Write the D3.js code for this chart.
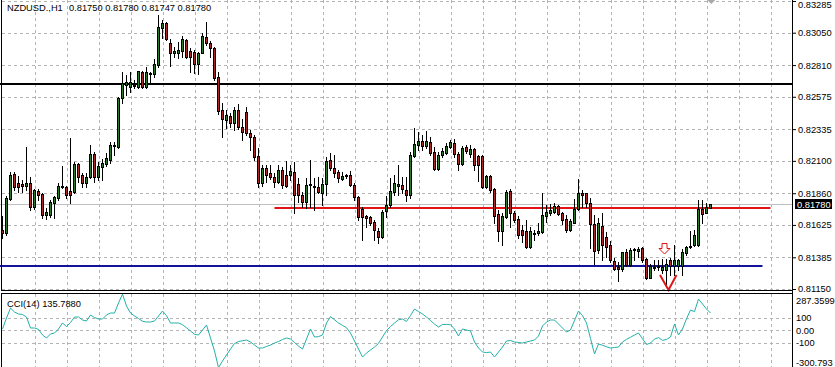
<!doctype html>
<meta charset="utf-8">
<style>
    body { margin: 0; background: #fff; }
    svg text { font-family: "Liberation Sans", Arial, sans-serif; font-size: 9.3px; fill: #000; }
</style>
<body>
<script src="https://d3js.org/d3.v7.min.js"></script>
<script>
    const symbol = 'NZDUSD.,H1';
    const lastQuote = ['0.81750', '0.81780', '0.81747', '0.81780'];
    const cciTitle = 'CCI(14) 135.7880';

    // hourly bars, oldest first: [open, high, low, close]
    const candles = [
        [0.81587,0.81691,0.81528,0.81565],[0.81565,0.81840,0.81550,0.81825],[0.81817,0.82017,0.81810,0.81995],[0.82003,0.82017,0.81884,0.81906],
        [0.81936,0.81988,0.81869,0.81906],[0.81928,0.81958,0.81869,0.81914],[0.81914,0.82203,0.81884,0.81936],[0.81936,0.81980,0.81736,0.81758],
        [0.81758,0.81891,0.81743,0.81884],[0.81877,0.81891,0.81810,0.81847],[0.81854,0.81862,0.81676,0.81699],[0.81699,0.81751,0.81669,0.81721],
        [0.81699,0.81810,0.81684,0.81795],[0.81788,0.81840,0.81676,0.81832],[0.81825,0.81936,0.81810,0.81914],[0.81906,0.82062,0.81899,0.81914],
        [0.81906,0.81914,0.81825,0.81847],[0.81877,0.82270,0.81788,0.81847],[0.81869,0.82092,0.81862,0.82077],[0.82077,0.82084,0.81943,0.81980],
        [0.81995,0.82010,0.81906,0.81936],[0.81936,0.82010,0.81906,0.81980],[0.81980,0.82218,0.81973,0.82151],[0.82151,0.82166,0.81943,0.81980],
        [0.81980,0.82092,0.81958,0.82062],[0.82055,0.82114,0.81958,0.82084],[0.82077,0.82158,0.82062,0.82121],[0.82106,0.82240,0.82084,0.82218],
        [0.82210,0.82240,0.82143,0.82218],[0.82203,0.82573,0.82195,0.82566],[0.82566,0.82759,0.82529,0.82677],[0.82662,0.82737,0.82588,0.82685],
        [0.82648,0.82759,0.82611,0.82685],[0.82655,0.82699,0.82640,0.82662],[0.82648,0.82766,0.82640,0.82766],[0.82759,0.82766,0.82640,0.82648],
        [0.82648,0.82796,0.82640,0.82759],[0.82744,0.82759,0.82677,0.82751],[0.82744,0.82855,0.82722,0.82818],[0.82811,0.83181,0.82796,0.83092],
        [0.83085,0.83144,0.83011,0.83122],[0.83122,0.83129,0.82996,0.83003],[0.82974,0.83003,0.82803,0.82900],[0.82900,0.82944,0.82870,0.82914],
        [0.82900,0.82981,0.82863,0.82922],[0.82914,0.83026,0.82870,0.83003],[0.82996,0.83003,0.82863,0.82870],[0.82914,0.82937,0.82759,0.82870],
        [0.82907,0.82922,0.82751,0.82818],[0.82818,0.82907,0.82744,0.82900],[0.82900,0.83048,0.82900,0.83026],[0.83018,0.83129,0.82959,0.82974],
        [0.82974,0.82989,0.82870,0.82937],[0.82937,0.82944,0.82699,0.82714],[0.82722,0.82759,0.82447,0.82470],[0.82477,0.82529,0.82277,0.82410],
        [0.82403,0.82477,0.82344,0.82440],[0.82433,0.82455,0.82351,0.82381],[0.82381,0.82499,0.82329,0.82477],[0.82477,0.82522,0.82336,0.82351],
        [0.82351,0.82410,0.82255,0.82314],[0.82462,0.82499,0.82292,0.82307],[0.82307,0.82329,0.82180,0.82277],[0.82277,0.82292,0.82106,0.82129],
        [0.82136,0.82195,0.81906,0.81936],[0.81936,0.82069,0.81914,0.82047],[0.82047,0.82069,0.81943,0.81995],[0.82010,0.82069,0.81966,0.81980],
        [0.81980,0.82010,0.81906,0.81943],[0.81943,0.82069,0.81936,0.82032],[0.82032,0.82055,0.81899,0.81921],[0.81995,0.82099,0.81906,0.81914],
        [0.81995,0.82069,0.81958,0.82025],[0.82017,0.82092,0.81714,0.81847],[0.81928,0.81973,0.81795,0.81847],[0.81847,0.81869,0.81758,0.81795],
        [0.81795,0.81973,0.81751,0.81921],[0.81921,0.82106,0.81758,0.81928],[0.81914,0.81973,0.81736,0.81906],[0.81906,0.81980,0.81862,0.81869],
        [0.81862,0.81973,0.81773,0.81928],[0.81928,0.82129,0.81847,0.82099],[0.82106,0.82158,0.82032,0.82047],[0.82047,0.82143,0.81980,0.82010],
        [0.82017,0.82032,0.81943,0.81973],[0.81966,0.82017,0.81958,0.81988],[0.81988,0.82003,0.81973,0.81995],[0.81995,0.82025,0.81914,0.81921],
        [0.81921,0.81936,0.81810,0.81832],[0.81832,0.81840,0.81662,0.81684],[0.81743,0.81758,0.81513,0.81684],[0.81691,0.81699,0.81610,0.81676],
        [0.81684,0.81691,0.81625,0.81639],[0.81647,0.81662,0.81513,0.81587],[0.81580,0.81602,0.81491,0.81536],[0.81536,0.81736,0.81528,0.81721],
        [0.81728,0.81840,0.81684,0.81773],[0.81773,0.81973,0.81758,0.81877],[0.81869,0.81995,0.81847,0.81936],[0.81914,0.82069,0.81847,0.81928],
        [0.81921,0.81980,0.81862,0.81891],[0.81884,0.81980,0.81802,0.81847],[0.81847,0.82166,0.81825,0.82143],[0.82136,0.82344,0.82129,0.82225],
        [0.82218,0.82314,0.82180,0.82247],[0.82247,0.82292,0.82180,0.82210],[0.82210,0.82321,0.82195,0.82247],[0.82240,0.82277,0.82143,0.82158],
        [0.82166,0.82203,0.82032,0.82040],[0.82040,0.82166,0.82032,0.82143],[0.82143,0.82195,0.82129,0.82173],[0.82158,0.82232,0.82151,0.82210],
        [0.82203,0.82255,0.82195,0.82240],[0.82232,0.82262,0.82129,0.82151],[0.82151,0.82166,0.82032,0.82077],[0.82077,0.82210,0.82069,0.82195],
        [0.82203,0.82218,0.82158,0.82173],[0.82151,0.82218,0.82129,0.82188],[0.82188,0.82195,0.82032,0.82069],[0.82136,0.82143,0.81951,0.82069],
        [0.82136,0.82143,0.81899,0.81906],[0.81906,0.81995,0.81899,0.81988],[0.81988,0.81995,0.81869,0.81884],[0.81891,0.81899,0.81639,0.81691],
        [0.81706,0.81736,0.81506,0.81580],[0.81580,0.81714,0.81477,0.81691],[0.81684,0.81884,0.81676,0.81869],[0.81877,0.81891,0.81610,0.81714],
        [0.81714,0.81728,0.81647,0.81662],[0.81669,0.81691,0.81528,0.81550],[0.81587,0.81625,0.81498,0.81550],[0.81580,0.81662,0.81454,0.81461],
        [0.81461,0.81610,0.81454,0.81580],[0.81558,0.81587,0.81513,0.81565],[0.81565,0.81639,0.81550,0.81580],[0.81573,0.81862,0.81565,0.81699],
        [0.81691,0.81773,0.81647,0.81721],[0.81714,0.81780,0.81699,0.81736],[0.81721,0.81788,0.81714,0.81765],[0.81765,0.81773,0.81699,0.81706],
        [0.81714,0.81721,0.81632,0.81662],[0.81669,0.81699,0.81573,0.81587],[0.81587,0.81669,0.81580,0.81654],[0.81639,0.81817,0.81639,0.81743],
        [0.81743,0.81966,0.81736,0.81862],[0.81862,0.81884,0.81758,0.81847],[0.81862,0.81862,0.81758,0.81788],[0.81788,0.81825,0.81454,0.81632],
        [0.81632,0.81699,0.81335,0.81432],[0.81439,0.81676,0.81417,0.81639],[0.81617,0.81714,0.81365,0.81477],[0.81536,0.81573,0.81387,0.81461],
        [0.81477,0.81506,0.81350,0.81365],[0.81358,0.81380,0.81291,0.81298],[0.81313,0.81350,0.81209,0.81298],[0.81298,0.81424,0.81284,0.81424],
        [0.81424,0.81447,0.81321,0.81328],[0.81328,0.81454,0.81321,0.81439],[0.81439,0.81454,0.81365,0.81447],[0.81432,0.81461,0.81387,0.81447],
        [0.81454,0.81461,0.81350,0.81365],[0.81373,0.81380,0.81224,0.81232],[0.81232,0.81335,0.81232,0.81321],[0.81306,0.81365,0.81291,0.81313],
        [0.81313,0.81365,0.81291,0.81321],[0.81291,0.81373,0.81269,0.81313],[0.81291,0.81373,0.81180,0.81335],[0.81365,0.81380,0.81254,0.81321],
        [0.81321,0.81477,0.81254,0.81365],[0.81321,0.81373,0.81291,0.81365],[0.81321,0.81447,0.81254,0.81424],[0.81417,0.81469,0.81402,0.81461],
        [0.81461,0.81580,0.81454,0.81469],[0.81477,0.81587,0.81469,0.81550],[0.81477,0.81810,0.81469,0.81743],[0.81743,0.81810,0.81639,0.81706],
        [0.81714,0.81788,0.81714,0.81758],[0.81750,0.81780,0.81747,0.81780]
    ];

    // CCI(14), one value per bar
    const cci = [
        8, 96, 176, 144, 128, 124, 104, 16, 16, 5,
        -40, -64, -32, -24, 8, 56, 28, 60, 104, 104,
        80, 72, 120, 100, 88, 88, 120, 136, 136, 216,
        287.3599, 192, 136, 112, 92, 70, 64, 64, 72, 112,
        152, 115, 56, 56, 56, 43, 18, -8, -34, -40,
        0, 40, -64, -168, -300.793, -248, -200, -152, -108, -92,
        -86, -80, -96, -120, -144, -144, -132, -120, -104, -92,
        -76, -64, -72, -100, -128, -152, -72, 8, -56, -53,
        -40, 56, 107, 82, 56, 37, 18, -24, -88, -152,
        -216, -184, -160, -136, -107, -56, -5, 28, 56, 82,
        88, 69, 116, 168, 148, 128, 104, 76, 48, 24,
        44, 45, 42, 8, -48, 8, 0, -8, -96, -144,
        -176, -181, -176, -216, -176, -136, -88, -84, -96, -100,
        -104, -96, -88, -80, -48, 32, 64, 80, 80, 48,
        16, -16, 0, 76, 152, 115, 56, -68, -192, -112,
        -122, -134, -144, -140, -136, -96, -75, -58, -40, -24,
        -70, -116, -104, -72, -61, -83, -75, -56, 48, -40,
        8, 90, 160, 147, 248, 208, 168, 135.788
    ];

    const priceRange = [0.81150, 0.83285];
    const priceTicks = [0.83285, 0.83050, 0.82810, 0.82575, 0.82335, 0.82100, 0.81860, 0.81625, 0.81385, 0.81150];
    const cciRange = [-300.793, 287.3599];
    const cciGrid = [100, 0, -100];
    const cciLabels = [[287.3599, '287.3599'], [100, '100'], [0, '0.00'], [-100, '-100'], [-300.793, '-300.793']];

    // horizontal lines drawn on the chart: [price, first bar, last bar, colour]
    const levels = [
        [0.82670, -2, 200, '#000000'],
        [0.81747, 68, 192, '#e01414'],
        [0.81321, -2, 190, '#12129a']
    ];
    // arrow objects: [bar, price]
    const hollowArrow = [165.5, 0.81491];
    const checkArrow = [166.5, 0.81143];

    const W = 835, H = 367;
    const axisX = 792;
    const mainBottom = 290, subTop = 293;

    const svg = d3.select('body').append('svg').attr('width', W).attr('height', H);
    svg.append('rect').attr('width', W).attr('height', H).attr('fill', '#fff');

    const x = d3.scaleLinear().domain([0, 1]).range([2.5, 6.5]);
    const y = d3.scaleLinear().domain(priceRange).range([289, 1]);
    const cy = d3.scaleLinear().domain(cciRange).range([367.6, 294.1]);
    const crisp = v => Math.round(v) + 0.5;

    const defs = svg.append('defs');
    defs.append('clipPath').attr('id', 'clip-main')
        .append('rect').attr('x', 0).attr('y', 0).attr('width', axisX).attr('height', mainBottom);
    defs.append('clipPath').attr('id', 'clip-sub')
        .append('rect').attr('x', 2).attr('y', subTop + 1).attr('width', axisX - 2).attr('height', H - subTop);

    // grid
    const grid = svg.append('g').attr('stroke', '#b4b4b4').attr('stroke-dasharray', '3,3').attr('fill', 'none');
    const gridBars = d3.range(8, 200, 8).filter(i => x(i) < axisX - 10);
    grid.selectAll('.vg-main').data(gridBars).enter().append('line')
        .attr('x1', i => crisp(x(i))).attr('x2', i => crisp(x(i)))
        .attr('y1', 0).attr('y2', mainBottom);
    grid.selectAll('.vg-sub').data(gridBars).enter().append('line')
        .attr('x1', i => crisp(x(i))).attr('x2', i => crisp(x(i)))
        .attr('y1', subTop + 1).attr('y2', H);
    grid.selectAll('.hg-main').data(priceTicks).enter().append('line')
        .attr('x1', 2).attr('x2', axisX)
        .attr('y1', d => crisp(y(d))).attr('y2', d => crisp(y(d)));
    grid.selectAll('.hg-sub').data(cciGrid).enter().append('line')
        .attr('x1', 2).attr('x2', axisX)
        .attr('y1', d => crisp(cy(d))).attr('y2', d => crisp(cy(d)));

    const main = svg.append('g').attr('clip-path', 'url(#clip-main)');

    // bid line
    const last = candles[candles.length - 1];
    main.append('line')
        .attr('x1', 0).attr('x2', axisX)
        .attr('y1', crisp(y(last[3]))).attr('y2', crisp(y(last[3])))
        .attr('stroke', '#c0c0c0');

    // horizontal lines
    main.selectAll('.level').data(levels).enter().append('line')
        .attr('x1', d => x(d[1])).attr('x2', d => x(d[2]))
        .attr('y1', d => Math.round(y(d[0]))).attr('y2', d => Math.round(y(d[0])))
        .attr('stroke', d => d[3]).attr('stroke-width', 2);

    // candles
    const bar = main.selectAll('.bar').data(candles).enter().append('g');
    bar.append('line')
        .attr('x1', (d, i) => x(i)).attr('x2', (d, i) => x(i))
        .attr('y1', d => Math.round(y(d[1]))).attr('y2', d => Math.round(y(d[2])) + 1)
        .attr('stroke', '#000');
    bar.append('rect')
        .attr('x', (d, i) => x(i) - 1)
        .attr('y', d => Math.round(y(Math.max(d[0], d[3]))) + 0.5)
        .attr('width', 2)
        .attr('height', d => Math.max(1, Math.round(y(Math.min(d[0], d[3]))) - Math.round(y(Math.max(d[0], d[3])))))
        .attr('fill', d => d[3] >= d[0] ? '#2a7a2a' : '#ad2626')
        .attr('stroke', '#000');

    // arrow objects
    const ha = [x(hollowArrow[0]), Math.round(y(hollowArrow[1]))];
    svg.append('path')
        .attr('d', `M${ha[0] - 2.5},${ha[1] + 0.5}h5v5h3l-5.5,5.5l-5.5,-5.5h3z`)
        .attr('fill', '#fff').attr('stroke', '#e01414');
    const ca = [x(checkArrow[0]), y(checkArrow[1])];
    svg.append('path')
        .attr('d', `M${ca[0] - 8.5},${ca[1] - 15}L${ca[0]},${ca[1]}L${ca[0] + 8},${ca[1] - 15}`)
        .attr('fill', 'none').attr('stroke', '#e01414').attr('stroke-width', 2);

    // CCI window
    svg.append('path')
        .datum(cci)
        .attr('clip-path', 'url(#clip-sub)')
        .attr('fill', 'none')
        .attr('stroke', '#20b2aa')
        .attr('d', d3.line().x((d, i) => x(i)).y(d => cy(d)));

    // frames
    const frame = svg.append('g').attr('stroke', '#000').attr('fill', 'none');
    frame.append('line').attr('x1', 1.5).attr('x2', 1.5).attr('y1', 0).attr('y2', mainBottom);
    frame.append('line').attr('x1', 1.5).attr('x2', 1.5).attr('y1', subTop).attr('y2', H);
    frame.append('line').attr('x1', 1).attr('x2', axisX).attr('y1', mainBottom + 0.5).attr('y2', mainBottom + 0.5);
    frame.append('line').attr('x1', 1).attr('x2', axisX).attr('y1', subTop + 0.5).attr('y2', subTop + 0.5);
    frame.append('line').attr('x1', axisX + 0.5).attr('x2', axisX + 0.5).attr('y1', 0).attr('y2', H);

    // chart shift marker
    svg.append('path')
        .attr('d', `M${x(177.2) - 4},0L${x(177.2) + 4},0L${x(177.2)},4Z`)
        .attr('fill', '#a8a8a8');

    // price scale
    const axis = svg.append('g')
        .attr('transform', `translate(${axisX},0)`)
        .call(d3.axisRight(y).tickValues(priceTicks).tickFormat(d3.format('.5f')).tickSize(4).tickPadding(2));
    axis.select('.domain').remove();
    axis.selectAll('text').attr('font-family', null).attr('font-size', null);
    // keep the top label inside the window
    axis.selectAll('.tick text').filter(d => y(d) < 5).attr('y', 4);

    // current price box
    const by = Math.round(y(last[3]));
    svg.append('rect').attr('x', 795).attr('y', by - 5).attr('width', 37).attr('height', 10).attr('fill', '#000');
    svg.append('text').attr('x', 797).attr('y', by + 3.5).style('fill', '#fff').text(d3.format('.5f')(last[3]));

    // CCI scale labels
    svg.selectAll('.cci-label').data(cciLabels).enter().append('text')
        .attr('x', 796)
        .attr('y', d => Math.max(300, Math.min(362, cy(d[0]))) + 3.5)
        .text(d => d[1]);

    // titles
    svg.append('text').attr('x', 7).attr('y', 11).text(symbol);
    svg.append('text').attr('x', 69).attr('y', 11).text(lastQuote.join(' '));
    svg.append('text').attr('x', 7).attr('y', 307).text(cciTitle);
</script>
